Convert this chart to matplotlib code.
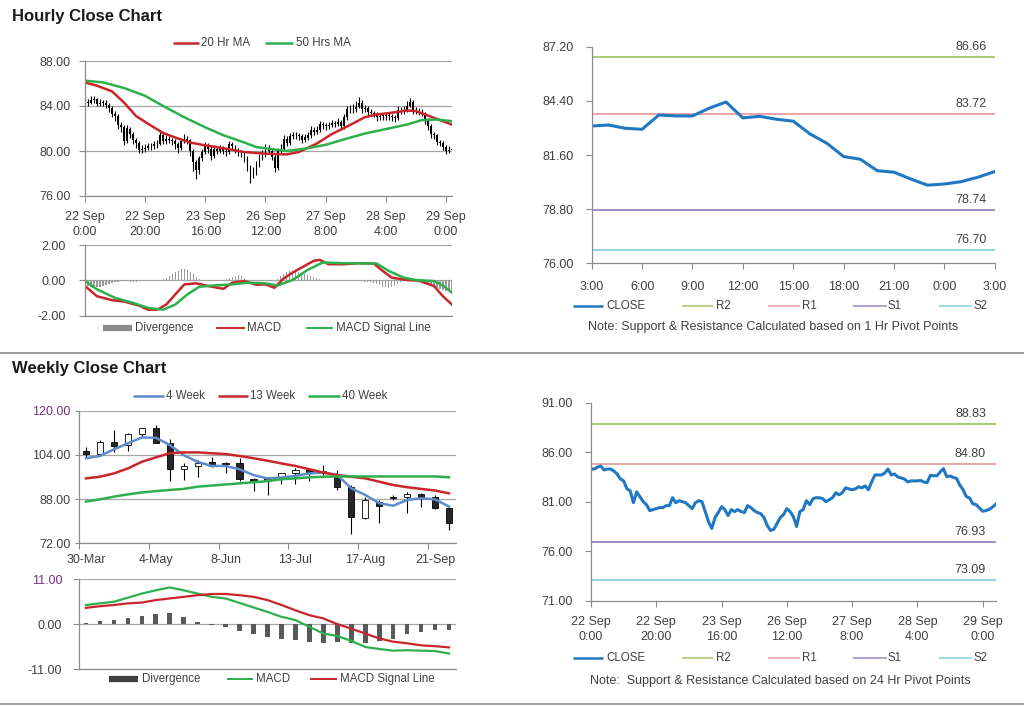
import matplotlib
matplotlib.use("Agg")
import matplotlib.pyplot as plt
from matplotlib.lines import Line2D
import numpy as np

plt.rcParams["font.family"] = ["Liberation Sans", "DejaVu Sans"]

# ---------------- data ----------------
# hourly closes, 22 Sep 0:00 -> 29 Sep 4:00 (index = trading hour)
hourly_close = [
    84.3, 84.3, 84.5, 84.6, 84.2, 84.3, 84.3, 84.1, 83.8, 83.3,
    83.1, 82.3, 82.1, 80.9, 82.0, 81.5, 81.0, 80.7, 80.1, 80.2,
    80.3, 80.4, 80.4, 80.6, 80.6, 81.4, 80.9, 81.1, 81.0, 80.9,
    80.6, 80.3, 80.9, 81.1, 81.0, 80.0, 79.0, 78.3, 79.4, 79.9,
    80.5, 80.2, 79.6, 80.2, 80.0, 80.2, 80.0, 79.9, 80.6, 80.4,
    80.1, 79.9, 79.8, 79.4, 78.6, 78.1, 78.2, 78.8, 79.4, 79.7,
    80.3, 80.0, 79.5, 78.5, 80.0, 80.2, 81.1, 80.7, 81.3, 81.4,
    81.4, 81.3, 81.0, 81.2, 81.4, 81.9, 81.7, 81.9, 82.4, 82.3,
    82.2, 82.3, 82.5, 82.4, 82.6, 82.2, 83.0, 83.7, 83.7, 83.7,
    83.9, 84.3, 83.7, 83.8, 83.5, 83.4, 83.3, 83.0, 83.1, 83.1,
    83.10, 83.15, 82.98, 82.93, 83.67, 83.62, 83.62, 84.02, 84.34, 83.52,
    83.60, 83.45, 83.35, 82.69, 82.21, 81.52, 81.38, 80.79, 80.71, 80.36,
    80.04, 80.10, 80.22, 80.45, 80.74,
]
hourly_high = [
    84.9, 84.6, 84.9, 84.9, 84.7, 84.6, 84.5, 84.5, 84.3, 84.0,
    83.6, 83.3, 82.6, 82.3, 82.3, 82.1, 81.7, 81.2, 80.9, 80.5,
    80.6, 80.7, 80.7, 80.9, 81.0, 81.7, 81.6, 81.4, 81.3, 81.2,
    81.1, 80.8, 81.2, 81.5, 81.3, 81.1, 80.2, 79.2, 79.6, 80.2,
    80.8, 80.7, 80.4, 80.5, 80.4, 80.5, 80.4, 80.3, 80.9, 80.8,
    80.5, 80.3, 80.1, 80.0, 79.6, 78.8, 78.6, 79.1, 79.7, 80.1,
    80.6, 80.5, 80.2, 79.7, 80.3, 80.6, 81.4, 81.3, 81.6, 81.7,
    81.7, 81.6, 81.5, 81.5, 81.7, 82.2, 82.1, 82.2, 82.7, 82.6,
    82.5, 82.6, 82.8, 82.7, 82.9, 82.8, 83.3, 84.0, 84.1, 84.2,
    84.4, 84.8, 84.5, 84.1, 84.0, 83.7, 83.6, 83.5, 83.4, 83.4,
    83.4, 83.5, 83.3, 83.2, 84.0, 83.9, 84.0, 84.4, 84.7, 84.5,
    83.9, 83.8, 83.7, 83.5, 82.9, 82.4, 81.7, 81.5, 81.0, 80.9,
    80.5, 80.4, 80.5, 80.7, 81.0,
]
hourly_low = [
    84.1, 84.0, 84.2, 84.3, 84.0, 84.0, 84.0, 83.8, 83.5, 83.0,
    82.7, 82.0, 81.7, 80.5, 80.7, 81.2, 80.6, 80.3, 79.8, 79.8,
    79.9, 80.1, 80.1, 80.2, 80.3, 80.5, 80.6, 80.6, 80.7, 80.5,
    80.2, 79.8, 80.1, 80.7, 80.6, 79.6, 78.2, 77.5, 78.0, 79.1,
    79.7, 79.8, 79.2, 79.4, 79.7, 79.8, 79.7, 79.6, 79.7, 80.1,
    79.8, 79.6, 79.5, 79.0, 78.2, 77.2, 77.6, 77.9, 78.6, 79.2,
    79.5, 79.7, 79.2, 78.1, 78.3, 79.8, 80.0, 80.4, 80.5, 81.1,
    81.1, 81.0, 80.7, 80.8, 81.0, 81.2, 81.4, 81.5, 81.7, 82.0,
    81.9, 82.0, 82.1, 82.1, 82.2, 81.9, 82.0, 82.8, 83.4, 83.4,
    83.5, 83.8, 83.4, 83.5, 83.2, 83.1, 83.0, 82.7, 82.8, 82.8,
    82.8, 82.8, 82.7, 82.6, 82.8, 83.3, 83.3, 83.5, 83.9, 83.3,
    83.3, 83.2, 83.1, 82.4, 81.9, 81.2, 81.1, 80.5, 80.4, 80.1,
    79.7, 79.8, 79.9, 80.1, 80.3,
]
first_open = 84.6
hourly_div = [
    -0.20, -0.30, -0.38, -0.42, -0.40, -0.35, -0.30, -0.25, -0.20, -0.15,
    -0.10, -0.08, -0.06, -0.05, -0.06, -0.08, -0.10, -0.08, -0.06, -0.05,
    -0.05, -0.06, -0.05, -0.03, -0.02, 0.02, 0.08, 0.15, 0.25, 0.35,
    0.45, 0.55, 0.62, 0.65, 0.60, 0.50, 0.35, 0.18, 0.05, -0.03,
    -0.05, -0.05, -0.04, -0.03, -0.04, -0.05, -0.03, 0.05, 0.12, 0.20,
    0.25, 0.28, 0.22, 0.12, 0.03, -0.03, -0.05, -0.06, -0.05, -0.04,
    -0.03, -0.04, -0.05, -0.03, 0.10, 0.25, 0.38, 0.48, 0.53, 0.52,
    0.50, 0.45, 0.40, 0.35, 0.30, 0.25, 0.20, 0.12, 0.06, 0.02,
    -0.02, -0.04, -0.05, -0.05, -0.04, -0.04, -0.05, -0.06, -0.05, -0.04,
    -0.04, -0.05, -0.06, -0.08, -0.10, -0.12, -0.15, -0.20, -0.28, -0.35,
    -0.40, -0.42, -0.38, -0.30, -0.20, -0.12, -0.05, -0.03, -0.02, -0.03,
    -0.04, -0.05, -0.08, -0.12, -0.20, -0.30, -0.38, -0.45, -0.50, -0.55,
    -0.58, -0.60, -0.62, -0.62, -0.60,
]
ma20_h = [0, 4, 9, 13, 17, 22, 26, 31, 35, 40, 46, 53, 61, 67, 71, 77, 82, 88, 93, 97,
          102, 107, 110, 113, 117, 122]
ma20_v = [86.1, 85.8, 85.3, 84.3, 83.1, 82.25, 81.6, 81.1, 80.75, 80.5, 80.25, 79.9, 79.75,
          79.7, 79.9, 80.65, 81.5, 82.3, 83.0, 83.25, 83.4, 83.6, 83.55, 83.25, 82.85, 82.35]
ma50_h = [0, 6, 13, 20, 26, 33, 40, 46, 53, 57, 61, 67, 73, 80, 87, 93, 100, 107, 112, 117, 122]
ma50_v = [86.25, 86.1, 85.6, 84.9, 84.0, 83.0, 82.1, 81.4, 80.75, 80.35, 80.2, 80.0, 80.2,
          80.55, 81.1, 81.55, 81.95, 82.35, 82.75, 82.8, 82.65]
macd_h = [0, 4, 9, 13, 18, 21, 24, 27, 30, 33, 37, 41, 46, 49, 53, 57, 60, 63, 66, 69,
          72, 76, 78, 81, 86, 91, 96, 99, 102, 107, 111, 116, 119, 122]
macd_v = [-0.32, -0.9, -1.12, -1.2, -1.43, -1.66, -1.66, -1.37, -0.8, -0.23, -0.17, -0.32,
          -0.48, -0.13, -0.04, -0.25, -0.23, -0.42, 0.1, 0.44, 0.72, 1.1, 1.16, 0.91, 0.91,
          0.97, 0.95, 0.53, 0.15, 0.02, -0.02, -0.32, -0.9, -1.37]
sig_h = [0, 4, 10, 16, 21, 26, 30, 34, 38, 43, 49, 54, 60, 64, 69, 74, 79, 86, 97, 101,
         106, 110, 116, 119, 122]
sig_v = [-0.04, -0.51, -0.99, -1.28, -1.56, -1.66, -1.37, -0.8, -0.36, -0.29, -0.23, -0.13,
         -0.17, -0.29, 0.02, 0.59, 1.01, 0.97, 0.95, 0.53, 0.15, 0.02, -0.04, -0.29, -0.7]
hour_ticks = ["22 Sep\n0:00", "22 Sep\n20:00", "23 Sep\n16:00", "26 Sep\n12:00",
              "27 Sep\n8:00", "28 Sep\n4:00", "29 Sep\n0:00"]
last_day_ticks = ["3:00", "6:00", "9:00", "12:00", "15:00", "18:00", "21:00", "0:00", "3:00"]

pivots_1h = {"R2": 86.66, "R1": 83.72, "S1": 78.74, "S2": 76.70}
pivots_24h = {"R2": 88.83, "R1": 84.80, "S1": 76.93, "S2": 73.09}

# weekly candles 30-Mar .. 28-Sep
wk_open = [105.5, 104.3, 108.8, 107.6, 111.6, 113.6, 108.2, 98.8, 100.0, 101.3, 101.0, 101.0,
           95.4, 95.5, 95.8, 97.3, 98.5, 97.4, 96.7, 92.5, 81.1, 87.1, 88.9, 88.7, 89.9, 88.7, 84.7]
wk_close = [104.2, 108.8, 107.3, 111.6, 113.6, 108.4, 98.9, 100.1, 101.2, 100.0, 100.6, 95.2,
            94.7, 94.4, 97.3, 98.5, 97.9, 98.3, 92.3, 81.4, 87.5, 85.5, 88.3, 89.9, 88.7, 84.7, 79.5]
wk_high = [106.7, 109.4, 113.0, 111.8, 113.8, 114.8, 109.6, 100.9, 102.1, 103.4, 101.5, 102.8,
           95.5, 95.9, 97.6, 99.3, 98.8, 100.2, 98.5, 93.1, 88.9, 87.7, 89.5, 90.4, 90.1, 89.5, 85.3]
wk_low = [103.4, 104.0, 105.2, 105.5, 110.6, 108.2, 94.7, 94.9, 96.1, 99.7, 97.6, 94.4,
          91.0, 89.5, 93.5, 93.5, 94.4, 96.6, 91.3, 75.4, 80.8, 79.4, 87.7, 83.0, 85.2, 84.3, 76.8]
ma4w = [102.8, 103.6, 106.0, 108.2, 110.3, 110.2, 107.6, 103.9, 101.5, 100.0, 100.0, 98.8, 96.7,
        95.5, 95.8, 96.4, 97.3, 97.6, 96.7, 91.9, 89.5, 86.5, 85.6, 87.7, 88.3, 87.9, 85.3]
ma13w = [95.5, 96.1, 97.3, 99.1, 101.5, 103.1, 104.6, 104.9, 104.9, 104.6, 104.3, 103.6, 102.8,
         101.9, 100.9, 100.0, 98.8, 97.6, 96.7, 96.1, 95.5, 94.3, 93.1, 92.3, 91.7, 91.1, 90.1]
ma40w = [87.1, 87.9, 88.9, 89.7, 90.4, 90.9, 91.3, 91.7, 92.5, 92.9, 93.3, 93.7, 94.1, 94.5,
         95.2, 95.5, 95.9, 96.1, 96.2, 96.2, 96.2, 96.2, 96.2, 96.2, 96.2, 96.2, 95.9]
wk_div = [0.4, 0.65, 0.9, 1.6, 2.0, 2.5, 2.8, 1.7, 0.6, -0.3, -0.65, -1.7, -2.5, -3.1, -3.7,
          -3.9, -4.5, -4.7, -4.4, -4.6, -4.7, -4.2, -3.7, -2.5, -2.0, -1.5, -1.5]
wk_macd = [4.7, 5.1, 5.5, 6.5, 7.5, 8.3, 9.0, 8.3, 7.5, 6.7, 6.3, 5.2, 4.1, 3.0, 1.8, 1.0,
           -0.65, -2.3, -2.9, -4.1, -5.6, -6.1, -6.5, -6.4, -6.5, -6.6, -7.2]
wk_signal = [4.0, 4.4, 4.7, 5.1, 5.3, 5.9, 6.3, 6.7, 7.1, 7.4, 7.4, 7.1, 6.7, 5.9, 4.7, 3.4,
             2.2, 1.4, 0.0, -1.1, -2.3, -3.5, -4.3, -4.7, -5.2, -5.4, -5.7]
week_ticks = ["30-Mar", "4-May", "8-Jun", "13-Jul", "17-Aug", "21-Sep"]

# ---------------- style ----------------
TXT = "#404040"
SPINE = "#8C8C8C"
GRID = "#A6A6A6"
RED = "#C8262B"
GREEN = "#2DB04B"
BLUE_W = "#5B8CCB"
CLOSE_C = "#1F78C1"
PIV_C = {"R2": "#A8CC72", "R1": "#EBA5A5", "S1": "#A38DC4", "S2": "#8ED2E3"}
TICK_FS = 9
W, H = 1024, 706

fig = plt.figure(figsize=(W / 100, H / 100), dpi=100)
fig.patch.set_facecolor("white")


def axes_px(left, top, right, bottom):
    return fig.add_axes([left / W, 1 - bottom / H, (right - left) / W, (bottom - top) / H])


def style(ax, grid=True):
    for s in ("top", "right"):
        ax.spines[s].set_visible(False)
    for s in ("left", "bottom"):
        ax.spines[s].set_color(SPINE)
        ax.spines[s].set_linewidth(0.9)
    ax.tick_params(colors=SPINE, labelcolor=TXT, labelsize=TICK_FS, direction="out", length=4, width=0.8)
    if grid:
        ax.yaxis.grid(True, color=GRID, lw=0.9)
        ax.set_axisbelow(True)


def fmt2(ax, vals):
    ax.set_yticks(vals)
    ax.set_yticklabels([f"{v:.2f}" for v in vals])


def legend_item(x0, x1, y, tx, label, color, lw=1.6):
    fig.add_artist(Line2D([x0 / W, x1 / W], [1 - y / H, 1 - y / H], color=color, lw=lw,
                          solid_capstyle="butt", transform=fig.transFigure))
    fig.text(tx / W, 1 - y / H, label, fontsize=8.3, color=TXT, va="center", ha="left")


# ---------------- hourly candles ----------------
n_top = 123
hc = np.array(hourly_close[:n_top])
ho = np.array([first_open] + hourly_close[:n_top - 1])
hx = np.arange(n_top)
ax1 = axes_px(85, 61, 452, 196)
style(ax1)
ax1.vlines(hx, hourly_low[:n_top], hourly_high[:n_top], color="black", lw=0.8)
ax1.bar(hx, np.maximum(np.abs(hc - ho), 0.06), bottom=np.minimum(hc, ho), width=0.6,
        color="black", lw=0)
ax1.plot(ma20_h, ma20_v, color=RED, lw=1.8)
ax1.plot(ma50_h, ma50_v, color=GREEN, lw=1.8)
ax1.set_xlim(0, n_top - 1)
ax1.set_ylim(76, 88)
fmt2(ax1, [76, 80, 84, 88])
ax1.set_xticks(range(0, 121, 20))
ax1.set_xticklabels(hour_ticks, linespacing=1.3)
ax1.tick_params(axis="x", pad=7)
ax1.tick_params(axis="y", pad=6)

ax2 = axes_px(85, 245, 452, 315.7)
style(ax2)
ax2.bar(hx, hourly_div[:n_top], width=0.4, color="#999999", lw=0)
ax2.plot(macd_h, macd_v, color=RED, lw=1.8)
ax2.plot(sig_h, sig_v, color=GREEN, lw=1.8)
ax2.set_xlim(0, n_top - 1)
ax2.set_ylim(-2, 2)
fmt2(ax2, [-2, 0, 2])
ax2.set_xticks([])
ax2.tick_params(axis="y", pad=10)

# ---------------- last 24 hours with pivots ----------------
ax3 = axes_px(591.7, 46.7, 994.7, 263.3)
style(ax3, grid=False)
last_day = hourly_close[-25:]
for k, lvl in pivots_1h.items():
    ax3.axhline(lvl, color=PIV_C[k], lw=1.4)
    ax3.annotate(f"{lvl:.2f}", (23.5, lvl), xytext=(0, 3), textcoords="offset points",
                 ha="right", va="bottom", fontsize=TICK_FS, color=TXT)
ax3.plot(range(25), last_day, color=CLOSE_C, lw=2.2)
ax3.set_xlim(0, 24)
ax3.set_ylim(76, 87.2)
fmt2(ax3, [76.0, 78.8, 81.6, 84.4, 87.2])
ax3.set_xticks(range(0, 25, 3))
ax3.set_xticklabels(last_day_ticks)
ax3.tick_params(axis="x", pad=9)
ax3.tick_params(axis="y", pad=9)

# ---------------- full week hourly close with pivots ----------------
ax4 = axes_px(591, 402.7, 995.7, 600.7)
style(ax4, grid=False)
for k, lvl in pivots_24h.items():
    ax4.axhline(lvl, color=PIV_C[k], lw=1.4)
    ax4.annotate(f"{lvl:.2f}", (121, lvl), xytext=(0, 3), textcoords="offset points",
                 ha="right", va="bottom", fontsize=TICK_FS, color=TXT)
ax4.plot(range(len(hourly_close)), hourly_close, color=CLOSE_C, lw=2.2)
ax4.set_xlim(0, len(hourly_close) - 1)
ax4.set_ylim(71, 91)
fmt2(ax4, [71, 76, 81, 86, 91])
ax4.set_xticks(range(0, 121, 20))
ax4.set_xticklabels(hour_ticks, linespacing=1.3)
ax4.tick_params(axis="x", pad=7)
ax4.tick_params(axis="y", pad=9)

for yy in (306, 658.3):
    legend_item(572.7, 603.3, yy, 606, "CLOSE", CLOSE_C, lw=1.8)
    legend_item(681.7, 713.3, yy, 716, "R2", PIV_C["R2"], lw=1.2)
    legend_item(768.3, 800, yy, 802, "R1", PIV_C["R1"], lw=1.2)
    legend_item(853, 886.7, yy, 888, "S1", PIV_C["S1"], lw=1.2)
    legend_item(939, 971.7, yy, 973, "S2", PIV_C["S2"], lw=1.2)
fig.text(588 / W, 1 - 326.7 / H, "Note: Support & Resistance Calculated based on 1 Hr Pivot Points",
         fontsize=9, color=TXT, va="center")
fig.text(590 / W, 1 - 681 / H, "Note:  Support & Resistance Calculated based on 24 Hr Pivot Points",
         fontsize=9, color=TXT, va="center")

# ---------------- weekly candles ----------------
wx = np.arange(len(wk_close))
wo, wc = np.array(wk_open), np.array(wk_close)
ax5 = axes_px(79, 410.7, 456, 543.3)
style(ax5)
ax5.vlines(wx, wk_low, wk_high, color="black", lw=0.8, zorder=2)
ax5.bar(wx, np.maximum(np.abs(wc - wo), 0.3), bottom=np.minimum(wc, wo), width=0.45,
        color=np.where(wc >= wo, "white", "#262626"), edgecolor="black", lw=0.6, zorder=3)
ax5.plot(wx, ma4w, color=BLUE_W, lw=1.8, zorder=4)
ax5.plot(wx, ma13w, color=RED, lw=1.8, zorder=4)
ax5.plot(wx, ma40w, color=GREEN, lw=1.8, zorder=4)
ax5.set_xlim(-0.5, len(wk_close) - 0.5)
ax5.set_ylim(72, 120)
fmt2(ax5, [72, 88, 104, 120])
ax5.get_yticklabels()[-1].set_color("#7A2F7F")
ax5.set_xticks(np.arange(-0.5, 25, 5))
ax5.set_xticklabels([])
ax5.set_xticks(range(0, 26, 5), minor=True)
ax5.set_xticklabels(week_ticks, minor=True)
ax5.tick_params(axis="x", which="minor", length=0, pad=8, labelsize=TICK_FS, labelcolor=TXT)
ax5.tick_params(axis="y", pad=3, length=3)

ax6 = axes_px(79, 579.3, 456, 669)
style(ax6)
ax6.bar(wx, wk_div, width=0.33, color="#595959", lw=0)
ax6.plot(wx, wk_macd, color=GREEN, lw=1.6)
ax6.plot(wx, wk_signal, color=RED, lw=1.6)
ax6.set_xlim(-0.5, len(wk_close) - 0.5)
ax6.set_ylim(-11, 11)
fmt2(ax6, [-11, 0, 11])
ax6.get_yticklabels()[-1].set_color("#7A2F7F")
ax6.set_xticks([])
ax6.tick_params(axis="y", pad=8)

# ---------------- legends / titles ----------------
legend_item(173, 199, 43.3, 201, "20 Hr MA", RED, lw=1.8)
legend_item(265, 293, 43.3, 296, "50 Hrs MA", GREEN, lw=1.8)
legend_item(103, 132, 328.3, 135, "Divergence", "#8C8C8C", lw=4.5)
legend_item(216, 245, 328.3, 247, "MACD", RED, lw=1.4)
legend_item(306, 333, 328.3, 336, "MACD Signal Line", GREEN, lw=1.4)
legend_item(133, 164, 395.7, 166, "4 Week", BLUE_W, lw=1.8)
legend_item(218, 248, 395.7, 250, "13 Week", RED, lw=1.8)
legend_item(308, 340, 395.7, 342, "40 Week", GREEN, lw=1.8)
legend_item(109, 138, 679, 142, "Divergence", "#404040", lw=4.5)
legend_item(227, 253, 679, 256, "MACD", GREEN, lw=1.4)
legend_item(310, 337, 679, 340, "MACD Signal Line", RED, lw=1.4)

fig.text(12 / W, 1 - 16 / H, "Hourly Close Chart", fontsize=12, fontweight="bold",
         color="#1A1A1A", va="center")
fig.text(12 / W, 1 - 369 / H, "Weekly Close Chart", fontsize=12, fontweight="bold",
         color="#1A1A1A", va="center")
for yy in (352.5, 703.5):
    fig.add_artist(Line2D([0, 1], [1 - yy / H, 1 - yy / H], color="#8C8C8C", lw=1.2,
                          transform=fig.transFigure))

fig.savefig("out.png", dpi=100, facecolor="white")
